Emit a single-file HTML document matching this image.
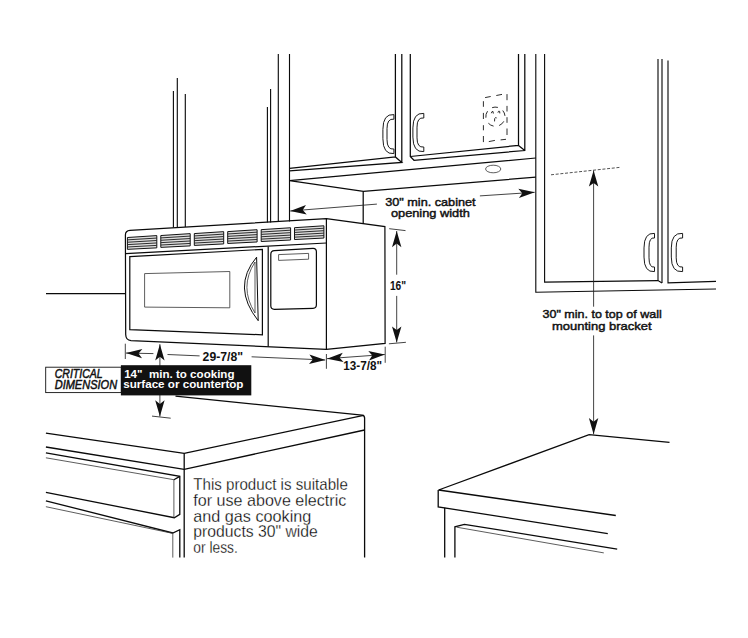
<!DOCTYPE html>
<html><head><meta charset="utf-8">
<style>
html,body{margin:0;padding:0;background:#fff;}
body{width:748px;height:638px;overflow:hidden;font-family:"Liberation Sans",sans-serif;}
svg{display:block;}
text{font-family:"Liberation Sans",sans-serif;}
.k{stroke:#0a0a0a;stroke-width:1.12;fill:none;stroke-linecap:butt;stroke-linejoin:miter;}
.t{stroke:#333;stroke-width:0.8;fill:none;}
.bb{font-weight:bold;fill:#111;}
.b{font-weight:normal;fill:#111;stroke:#111;stroke-width:0.45;}
</style></head><body>
<svg width="748" height="638" viewBox="0 0 748 638">
<defs>
<path id="ah" d="M0,0 L-16.2,-4.7 L-12.6,0 L-16.2,4.7 Z" fill="#111"/>
</defs>
<rect width="748" height="638" fill="#fff"/>

<!-- background vertical wall lines -->
<g class="k">
<path d="M173.4,91V227.6M177.3,78V227.4M185.3,94V227M267.4,107V222.6M270.6,89V222.4M278.3,54V222M289.5,54V221.4"/>
</g>

<!-- upper cabinet (middle) -->
<g class="k" style="stroke-width:1.25">
<!-- door1 -->
<path d="M395.4,54V157M401.8,54V162.4M289.5,168.4L395.4,157L401.8,162.4L289.5,170.9"/>
<!-- door2 -->
<path d="M410.3,54V156.5L414,160.3L524.8,150.5V54M410.3,156.5L518.5,145.4V54M518.5,145.4L524.8,150.5"/>
<!-- cabinet bottom -->
<path d="M289.5,180.6L535.8,158M289.5,180.6L363.4,191.3L535.8,177.2M363.2,191.3V223.2"/>
</g>
<ellipse cx="493.2" cy="169" rx="7.6" ry="3.8" class="t"/>

<!-- right cabinet -->
<g class="k">
<path d="M535.8,54V292.2L716,289"/>
<path d="M544.6,54V282.1L658,280.6L662,283"/>
<path d="M658,59V280.6M662,59V283M668,60.4V282.8L716,281.4"/>
</g>

<!-- microwave -->
<g class="k" style="stroke-width:1.22">
<path d="M125.4,235Q125.4,230.7 130,230.4L326.4,218.6L384.9,226.6L385.1,343.4L326.4,349.3L131,340.6Q125.8,340.2 125.7,334.5Z"/>
<path d="M326.4,218.6V349.3"/>
<path d="M125.6,253.6L326.4,243"/>
<path d="M129.8,256.6L262.4,249.4V334.8L129.8,329.7Z"/>
<path d="M268.2,246.4V346.6"/>
<path d="M274.4,250.7L313,248.4Q316.4,248.3 316.4,251.8V304.8Q316.4,308.2 313,308.3L274.4,309.3Q270.8,309.3 270.8,305.8V254.4Q270.8,250.9 274.4,250.7Z"/>
</g>
<path class="t" d="M144.6,273.6L229.8,271.5V307.8L144.6,307.1Z"/>
<path class="t" d="M278.6,254.6L308.6,253.4V259.2L278.6,260.4Z"/>
<!-- mw handle -->
<path class="k" style="stroke-width:1" d="M256.6,257.2Q231.5,287 258.2,320.7Z"/>
<path class="t" d="M255,262Q238.8,287 255,313Z"/>
<!-- vents -->
<path d="M127.4,237.50L156.8,235.60V247.85L127.4,249.35Z" fill="#dedede" stroke="#111" stroke-width="1"/>
<path d="M127.4,239.87L156.8,238.05M127.4,242.24L156.8,240.50M127.4,244.61L156.8,242.95M127.4,246.98L156.8,245.40" fill="none" stroke="#222" stroke-width="0.95"/>
<path d="M160.8,235.54L190.2,233.64V245.89L160.8,247.39Z" fill="#dedede" stroke="#111" stroke-width="1"/>
<path d="M160.8,237.91L190.2,236.09M160.8,240.28L190.2,238.54M160.8,242.65L190.2,240.99M160.8,245.02L190.2,243.44" fill="none" stroke="#222" stroke-width="0.95"/>
<path d="M194.3,233.57L223.7,231.67V243.92L194.3,245.42Z" fill="#dedede" stroke="#111" stroke-width="1"/>
<path d="M194.3,235.94L223.7,234.12M194.3,238.31L223.7,236.57M194.3,240.68L223.7,239.02M194.3,243.05L223.7,241.47" fill="none" stroke="#222" stroke-width="0.95"/>
<path d="M227.7,231.61L257.1,229.71V241.96L227.7,243.46Z" fill="#dedede" stroke="#111" stroke-width="1"/>
<path d="M227.7,233.98L257.1,232.16M227.7,236.35L257.1,234.61M227.7,238.72L257.1,237.06M227.7,241.09L257.1,239.51" fill="none" stroke="#222" stroke-width="0.95"/>
<path d="M261.2,229.65L290.6,227.75V240.00L261.2,241.50Z" fill="#dedede" stroke="#111" stroke-width="1"/>
<path d="M261.2,232.02L290.6,230.20M261.2,234.39L290.6,232.65M261.2,236.76L290.6,235.10M261.2,239.13L290.6,237.55" fill="none" stroke="#222" stroke-width="0.95"/>
<path d="M294.5,227.69L323.9,225.79V238.04L294.5,239.54Z" fill="#dedede" stroke="#111" stroke-width="1"/>
<path d="M294.5,230.06L323.9,228.24M294.5,232.43L323.9,230.69M294.5,234.80L323.9,233.14M294.5,237.17L323.9,235.59" fill="none" stroke="#222" stroke-width="0.95"/>
<!-- left line -->
<path class="k" d="M46,293.6H125.6"/>

<!-- left counter -->
<g class="k" style="stroke-width:1.3">
<path d="M175.5,396.1L362,415.1Q364.6,415.4 364.6,418V557.6"/>
<path d="M45.9,433.2L184.2,453.4L363.6,415.3"/>
<path d="M45.9,447L184.2,469.4L364.6,430"/>
<path d="M184.2,453.4V557.6"/>
<!-- drawer 1 -->
<path d="M45.9,452.9L179.8,476.4V514.4L174.3,517.7L45.9,492.4"/>
<path d="M179.8,476.4L173.9,479.7"/>
<!-- drawer 2 -->
<path d="M45.9,500.8L172.8,533L179.8,529.7V557.6"/>
</g>
<g class="t">
<path d="M45.9,457.8L173.9,479.7V517.7"/>
<path d="M45.9,506.7L172.8,533.4V557.6"/>
</g>

<!-- right counter -->
<g class="k" style="stroke-width:1.3">
<path d="M669.5,442.3L589.1,434.7L438.6,490L615.8,515.5"/>
<path d="M438.2,490V506.9L607.8,533.6"/>
<path d="M444.7,507.7V557.6"/>
<path d="M454.9,557.6V526.8L464.4,524.3L617.2,549.1"/>
</g>
<path class="t" d="M456.7,527.2L603.8,552.9"/>
<!-- dimensions -->
<g class="k" style="stroke-width:0.85;stroke:#222">
<path d="M290.2,211L376.9,204.1M479.9,195.9L534.6,192.3"/>
<path d="M396.7,231V274.7M396.7,295.9V342.4M389.2,228.7L405.5,230.6M388.9,343.8L405.9,342.3"/>
<path d="M125.3,343.7V359M126,353.05L153.4,353.6M167.5,354.5L199.6,355.9M251.6,356.8L325.2,360M326.4,354V368.8"/>
<path d="M327,358.7L384.8,354.5M385.2,346.7V362.8"/>
<path d="M159.9,344.2V416.5M152,416.1L170.7,418.2"/>
<path d="M593.6,170.4V306.7M593.6,335.4V434.3"/>
</g>
<path d="M551,174.8L619.5,167.4" stroke="#333" stroke-width="0.85" stroke-dasharray="3,1.7" fill="none"/>
<use href="#ah" transform="translate(290.2,211) rotate(175.45)"/>
<use href="#ah" transform="translate(534.8,192.3) rotate(-3.7654071531674003)"/>
<use href="#ah" transform="translate(396.7,231) rotate(-90)"/><use href="#ah" transform="translate(396.7,342.6) rotate(90)"/>
<use href="#ah" transform="translate(126,353.05) rotate(-177.87102572912542)"/>
<use href="#ah" transform="translate(325.4,360) rotate(2.4895529219991475)"/>
<use href="#ah" transform="translate(327,358.7) rotate(175.3780554675455)"/>
<use href="#ah" transform="translate(384.8,354.5) rotate(-4.621944532454536)"/>
<use href="#ah" transform="translate(159.9,344.2) rotate(-90)"/><use href="#ah" transform="translate(159.9,416.5) rotate(90)"/>
<use href="#ah" transform="translate(593.6,170.4) rotate(-90)"/><use href="#ah" transform="translate(593.6,434.3) rotate(90)"/>
<rect x="45.7" y="367.2" width="75.6" height="25.4" fill="#fff" stroke="#111" stroke-width="0.9"/>
<rect x="120.9" y="365.2" width="130.4" height="30.2" fill="#111"/>
<text x="385.2" y="205.5" font-size="11.6" class="b" textLength="90.4" lengthAdjust="spacingAndGlyphs" >30" min. cabinet</text>
<text x="390.9" y="217.1" font-size="11.6" class="b" textLength="79" lengthAdjust="spacingAndGlyphs" >opening width</text>
<text x="542.5" y="317.6" font-size="11.6" class="b" textLength="119.2" lengthAdjust="spacingAndGlyphs" >30" min. to top of wall</text>
<text x="552" y="329.6" font-size="11.6" class="b" textLength="99.6" lengthAdjust="spacingAndGlyphs" >mounting bracket</text>
<text x="389.9" y="289.6" font-size="12.6" class="bb" textLength="16.2" lengthAdjust="spacingAndGlyphs" >16"</text>
<text x="202.6" y="360.9" font-size="12.6" class="bb" textLength="40.4" lengthAdjust="spacingAndGlyphs" >29-7/8"</text>
<text x="343.2" y="370.2" font-size="12.6" class="bb" textLength="38.8" lengthAdjust="spacingAndGlyphs" >13-7/8"</text>
<text x="124.2" y="377.7" font-size="11.6" class="bb" textLength="110.3" lengthAdjust="spacingAndGlyphs" style="fill:#fff" xml:space="preserve">14"  min. to cooking</text>
<text x="123.2" y="388.4" font-size="11.6" class="bb" textLength="120.3" lengthAdjust="spacingAndGlyphs" style="fill:#fff">surface or countertop</text>
<text x="54.7" y="378.3" font-size="12.6" textLength="48" lengthAdjust="spacingAndGlyphs" font-style="italic" fill="#111" stroke="#111" stroke-width="0.5">CRITICAL</text>
<text x="54.7" y="388.6" font-size="12.6" textLength="62.4" lengthAdjust="spacingAndGlyphs" font-style="italic" fill="#111" stroke="#111" stroke-width="0.5">DIMENSION</text>
<text x="193.3" y="490" font-size="16.4" class="p" stroke="#fff" stroke-width="0.28" textLength="154.5" lengthAdjust="spacingAndGlyphs" fill="#000">This product is suitable</text>
<text x="193.3" y="505.7" font-size="16.4" class="p" stroke="#fff" stroke-width="0.28" textLength="153" lengthAdjust="spacingAndGlyphs" fill="#000">for use above electric</text>
<text x="193.3" y="521.5" font-size="16.4" class="p" stroke="#fff" stroke-width="0.28" textLength="118" lengthAdjust="spacingAndGlyphs" fill="#000">and gas cooking</text>
<text x="193.3" y="537" font-size="16.4" class="p" stroke="#fff" stroke-width="0.28" textLength="124.5" lengthAdjust="spacingAndGlyphs" fill="#000">products 30" wide</text>
<text x="193.3" y="552.8" font-size="16.4" class="p" stroke="#fff" stroke-width="0.28" textLength="44.5" lengthAdjust="spacingAndGlyphs" fill="#000">or less.</text>
<!-- handles -->
<path class="t" style="stroke:#1a1a1a;stroke-width:1;stroke-linejoin:round" d="M393.9,114.6 Q382.9,113.6 382.9,129.42 L382.9,138.78 Q382.9,154.6 393.9,153.6 L393.9,149.0 Q387,150.0 387,139.56 L387,128.64 Q387,118.19999999999999 393.9,119.19999999999999 Z"/>
<path class="t" style="stroke:#1a1a1a;stroke-width:1;stroke-linejoin:round" d="M423.8,113.4 Q412.9,112.4 412.9,127.916 L412.9,137.084 Q412.9,152.6 423.8,151.6 L423.8,147.0 Q417,148.0 417,137.848 L417,127.152 Q417,117.0 423.8,118.0 Z"/>
<path class="t" style="stroke:#1a1a1a;stroke-width:1;stroke-linejoin:round" d="M654.5,233.4 Q644,232.4 644,247.91600000000003 L644,257.084 Q644,272.6 654.5,271.6 L654.5,267.0 Q649,268.0 649,257.848 L649,247.15200000000002 Q649,237.0 654.5,238.0 Z"/>
<path class="t" style="stroke:#1a1a1a;stroke-width:1;stroke-linejoin:round" d="M682.6,233.4 Q671.3,232.4 671.3,247.91600000000003 L671.3,257.084 Q671.3,272.6 682.6,271.6 L682.6,267.0 Q676.2,268.0 676.2,257.848 L676.2,247.15200000000002 Q676.2,237.0 682.6,238.0 Z"/>
<path d="M485.1,97.6L490.7,96.5M496.3,95.5L502.0,94.4M507.0,94.1L507.0,100.2M507.0,105.9L507.0,111.5M507.0,117.2L507.0,122.8M507.0,128.5L507.0,135.0M483.4,101.2L483.4,106.8M483.4,112.9L483.4,119.0M483.4,125.2L483.4,130.3M483.4,136.0L483.4,142.1M488.8,141.6L494.9,140.4M500.6,139.9L506.0,139.3" fill="none" stroke="#222" stroke-width="0.95"/>
<path d="M492.12,107.67A9.6,9.6 0 0 1 497.89,107.42M502.76,110.52A9.6,9.6 0 0 1 504.97,115.86M503.80,121.35A9.6,9.6 0 0 1 499.15,125.53M493.57,126.12A9.6,9.6 0 0 1 488.38,123.24M485.86,117.70A9.6,9.6 0 0 1 487.54,111.19" fill="none" stroke="#222" stroke-width="0.95"/>
<path d="M491.36,113.21Q491.64,111.05 493.05,111.52L493.33,113.59M497.94,112.65Q498.23,110.58 499.64,111.33L499.83,113.40M494.56,121.40Q494.18,117.92 495.87,117.35L496.44,118.29" fill="none" stroke="#222" stroke-width="0.95"/>
</svg>
</body></html>
